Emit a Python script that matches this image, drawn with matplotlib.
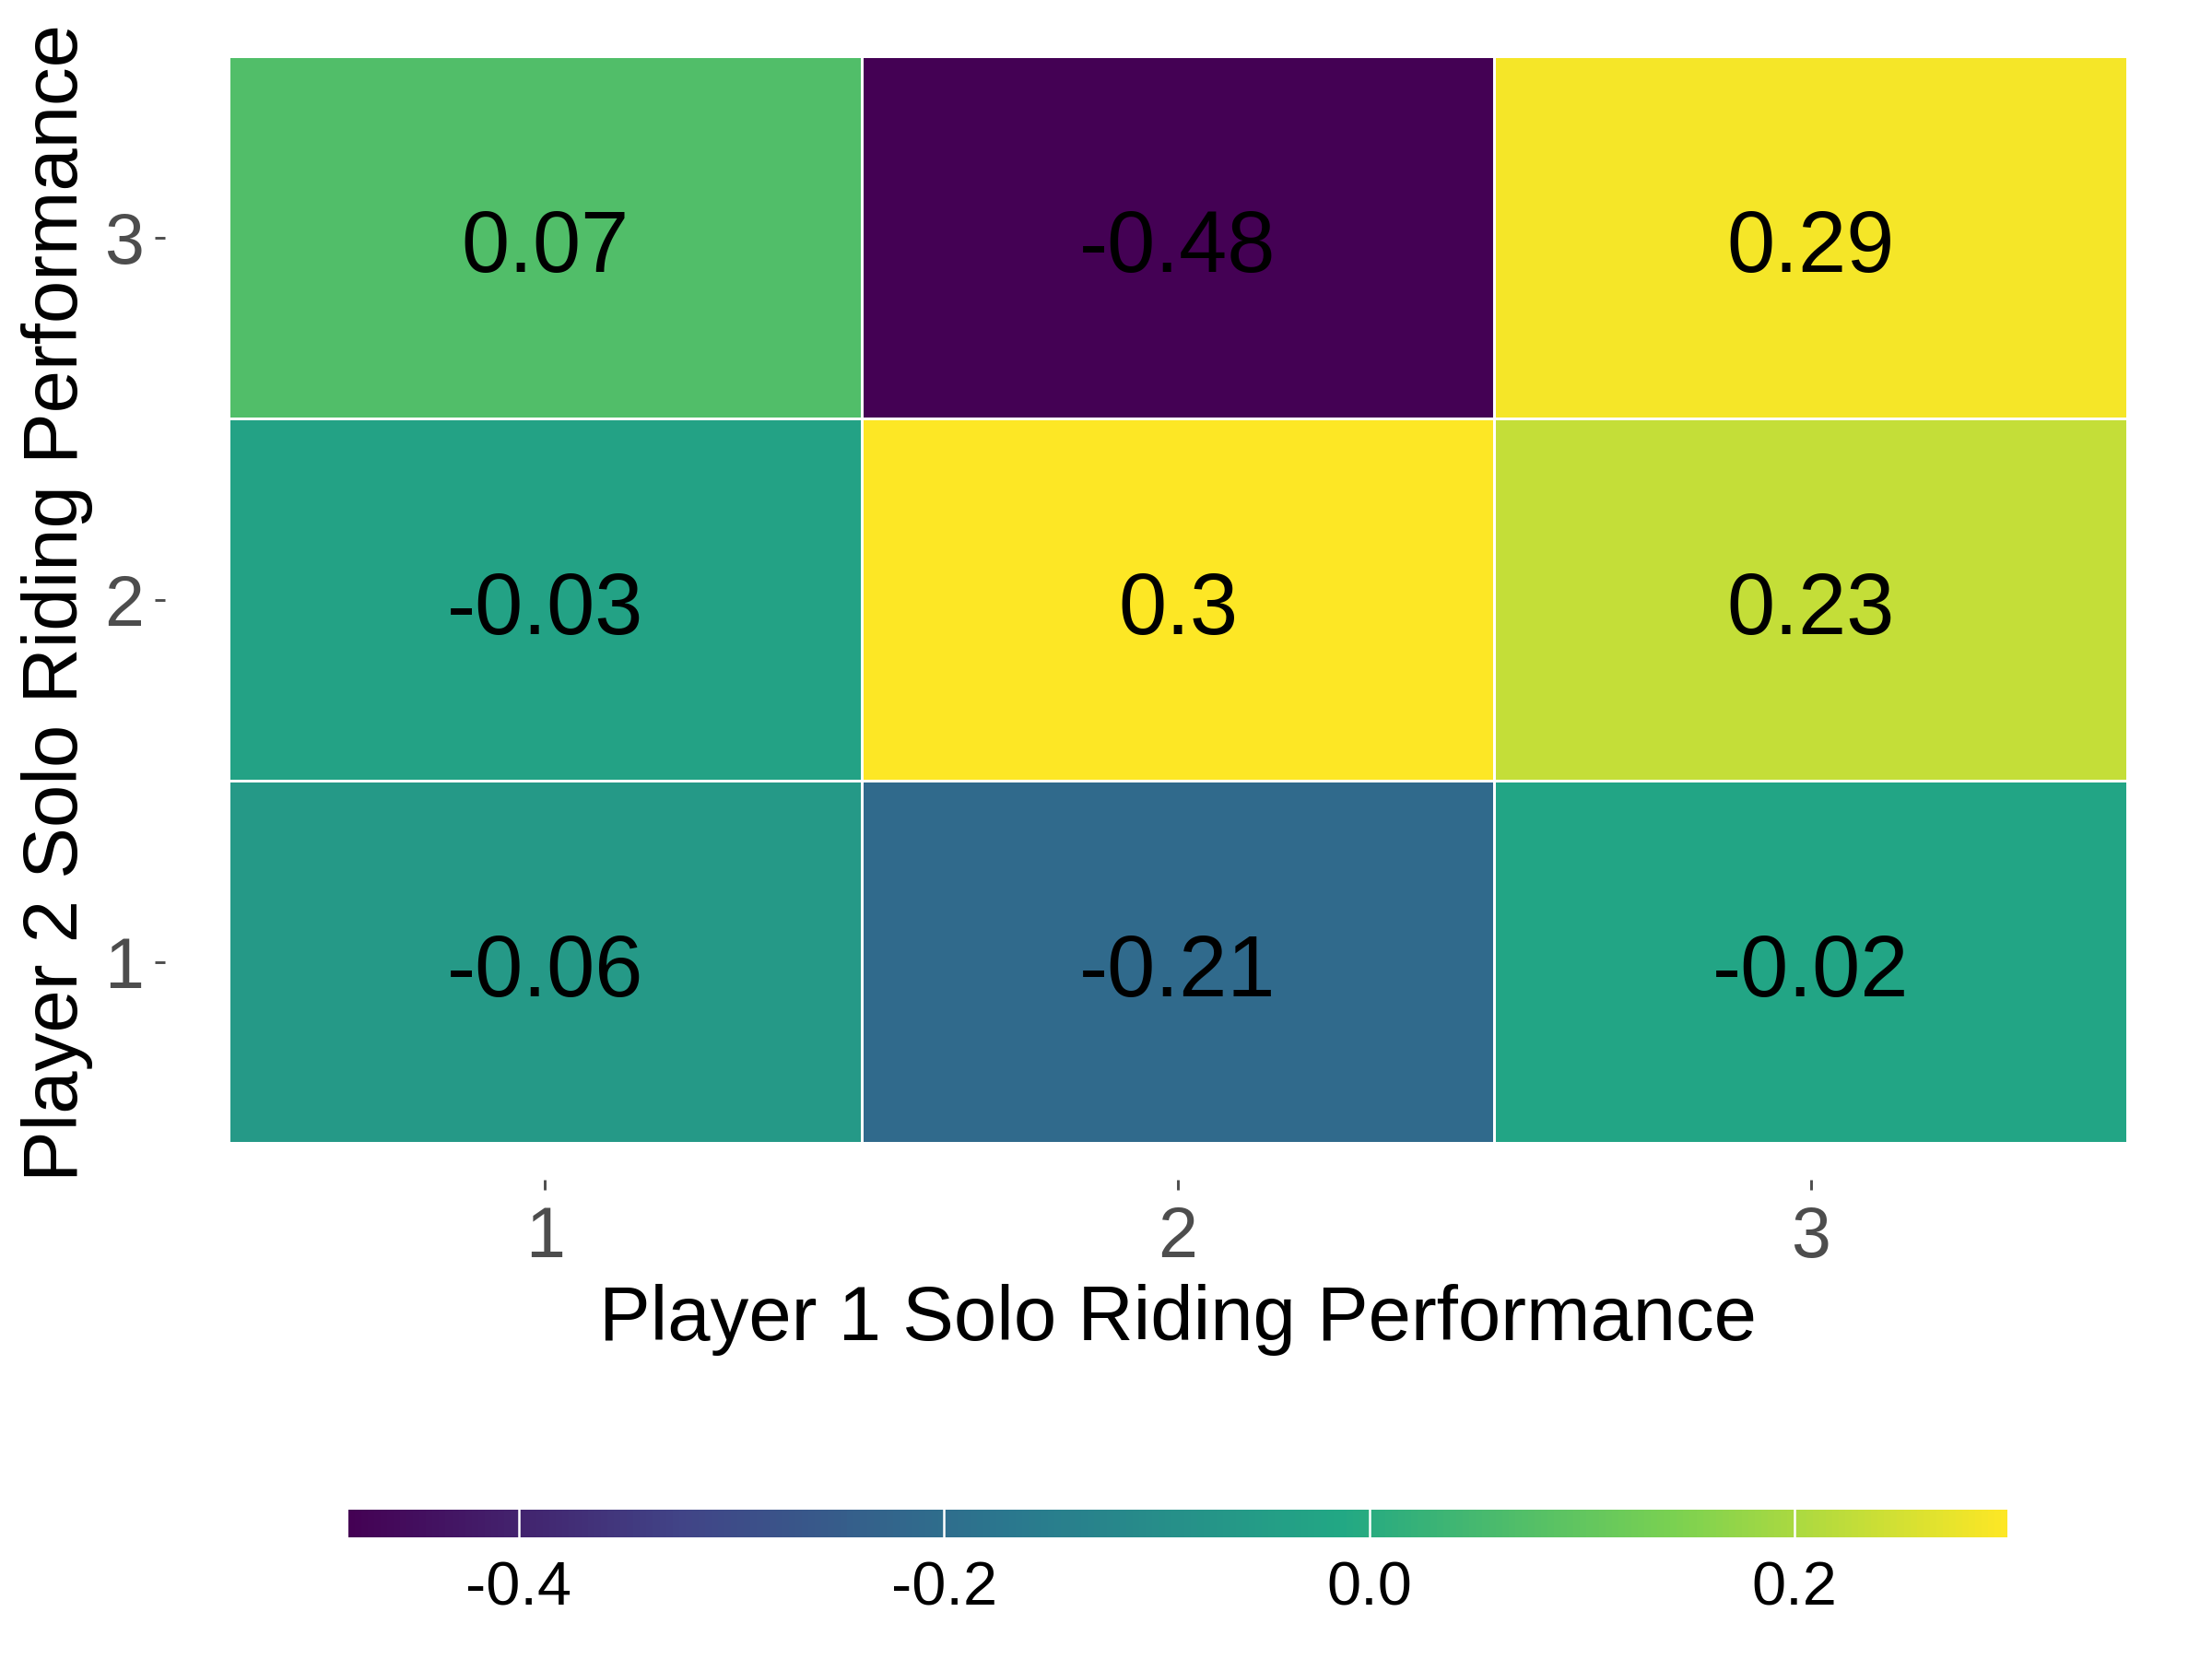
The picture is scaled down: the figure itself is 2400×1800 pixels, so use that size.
import numpy as np
import matplotlib.pyplot as plt
from matplotlib import colors

plt.rcParams['font.family'] = ['Liberation Sans', 'DejaVu Sans']

p1_levels = ['1', '2', '3']
p2_levels = ['1', '2', '3']
# rows: player 2 level 1..3, cols: player 1 level 1..3
values = np.array([
    [-0.06, -0.21, -0.02],
    [-0.03, 0.30, 0.23],
    [0.07, -0.48, 0.29],
])
cbar_ticks = [-0.4, -0.2, 0.0, 0.2]

# ggplot's viridis_c: 6 viridis colours interpolated
viridis6 = ['#440154', '#414487', '#2A788E', '#22A884', '#7AD151', '#FDE725']
cmap = colors.LinearSegmentedColormap.from_list('vir6', viridis6)
norm = colors.Normalize(vmin=values.min(), vmax=values.max())

fig = plt.figure(figsize=(8, 6), dpi=300)
ax = fig.add_axes([0.1033, 0.3111, 0.8584, 0.655])

x_edges = np.arange(len(p1_levels) + 1) + 0.5
y_edges = np.arange(len(p2_levels) + 1) + 0.5
mesh = ax.pcolormesh(x_edges, y_edges, values, cmap=cmap, norm=norm,
                     edgecolors='white', linewidth=0.25)

# digits centred on the cap height, like ggplot's geom_text
for i in range(len(p2_levels)):
    for j in range(len(p1_levels)):
        ax.annotate(f"{values[i, j]:g}", (j + 1, i + 1), xytext=(0, -9.1),
                    textcoords='offset points', ha='center', va='baseline',
                    fontsize=22.5, color='black')

ax.set_xlim(0.5, 3.5)
ax.set_ylim(0.5, 3.5)
ax.set_xticks(range(1, 4))
ax.set_xticklabels(p1_levels)
ax.set_yticks(range(1, 4))
ax.set_yticklabels(p2_levels)
for s in ax.spines.values():
    s.set_visible(False)
ax.spines['bottom'].set_position(('outward', 9.6))
ax.spines['left'].set_position(('outward', 16.5))
ax.tick_params(axis='both', labelsize=18.5, labelcolor='#4D4D4D', color='#4D4D4D',
               length=2.6, width=0.7)
ax.tick_params(axis='x', pad=3.8)
ax.tick_params(axis='y', pad=2.9)

fig.text(1278 / 2400, 1 - 1432 / 1800, 'Player 1 Solo Riding Performance',
         fontsize=20, ha='center', va='center')
fig.text(62 / 2400, 1 - 654 / 1800, 'Player 2 Solo Riding Performance',
         fontsize=20, ha='center', va='center', rotation=90)

cax = fig.add_axes([0.1575, 0.0733, 0.75, 0.0167])
cb = fig.colorbar(mesh, cax=cax, orientation='horizontal', ticks=cbar_ticks)
cb.outline.set_visible(False)
cb.ax.tick_params(length=0, labelsize=16, pad=6)
cb.ax.set_xticklabels([f"{t:.1f}" for t in cbar_ticks])
for t in cbar_ticks:
    cb.ax.axvline(t, color='white', linewidth=0.6)

fig.savefig('out.png', dpi=300)
